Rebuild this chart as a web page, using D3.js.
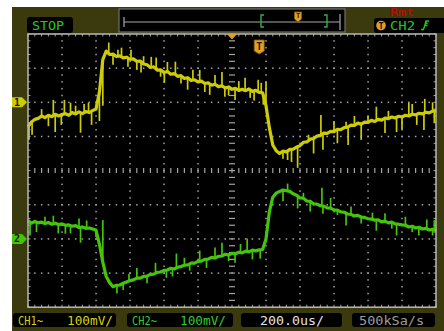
<!DOCTYPE html>
<html><head><meta charset="utf-8">
<script src="https://cdn.jsdelivr.net/npm/d3@7"></script>
<style>html,body{margin:0;padding:0;background:#fff;} svg{display:block}</style>
</head><body>
<svg id="c" width="444" height="331"></svg>
<script>
// ---- data (time in µs, voltage in mV) ----
const startTime = -1200;
const sampleStep = 20;
const ch1Values = [
 -72,-58,-50,-47,-40,-45,-38,-42,-35,-40,
 -36,-33,-38,-30,-34,-28,-33,-27,-30,-24,
 -20,30,125,150,140,141,134,136,130,132,
 126,127,120,121,112,110,102,104,94,95,
 87,90,82,84,76,78,70,72,64,66,
 60,62,55,57,50,53,46,48,42,45,
 38,41,35,38,34,39,32,35,29,28,
 -10,-75,-125,-142,-150,-143,-145,-138,-137,-131,
 -127,-117,-116,-108,-106,-99,-97,-90,-91,-85,
 -86,-79,-80,-74,-73,-67,-68,-61,-64,-58,
 -59,-53,-56,-50,-52,-46,-48,-43,-46,-41,
 -43,-38,-40,-35,-37,-32,-34,-29,-31,-26,-25];
const ch2Values = [
 54,46,51,47,49,45,48,43,46,42,
 44,40,41,37,39,33,35,31,32,29,
 26,-15,-68,-110,-128,-140,-136,-135,-130,-126,
 -122,-120,-115,-115,-110,-109,-104,-103,-98,-97,
 -92,-91,-86,-88,-83,-81,-77,-76,-71,-71,
 -66,-65,-60,-59,-54,-56,-51,-50,-45,-47,
 -42,-44,-39,-41,-36,-38,-33,-35,-32,-31,
 0,80,122,134,139,143,141,139,132,128,
 120,119,111,110,103,102,97,96,91,90,
 85,84,79,78,73,72,67,69,64,63,
 59,58,55,56,50,52,47,49,44,43,
 41,40,35,37,32,34,29,31,26,28,24];
const ch1Spikes = [[-1194,-110],[-1176,-95],[-1051,7],[-1040,-87],[-1004,-66],[-986,7],[-950,-1],
 [-891,-89],[-844,-1],[-826,-66],[-725,175],[-671,154],[-612,104],[-594,154],[-535,87],[-475,133],
 [-446,131],[-398,57],[-333,119],[-261,37],[-190,95],[-131,22],[-59,89],[-42,16],[18,7],[77,72],
 [107,13],[154,66],[172,57],[184,-7],[327,-169],[386,-192],[523,-37],[535,-139],[671,-57],[683,-125],
 [849,-13],[968,-87],[1040,-1],[1087,-66],[1129,-81],[1134,10],
 [-1120,-20],[-1080,-70],[-920,-10],[-870,-5],[-780,-55],[-760,-10],
 [-700,110],[-650,160],[-560,95],[-520,135],[-420,75],[-380,118],[-300,55],[-230,95],[-160,30],
 [-100,80],[-20,20],[40,62],[130,5],[200,60],
 [300,-165],[350,-175],[450,-95],[480,-150],[600,-55],[620,-120],[720,-40],[760,-110],[800,-40],
 [900,-90],[920,-25],[1000,-80],[1060,-5],[1180,0],[1190,-60]];
const ch2Spikes = [[-1188,10],[-1051,68],[-1022,16],[-950,16],[-891,-11],[-855,54],[-677,-160],
 [-606,-102],[-386,-114],[-327,-43],[-249,-93],[-190,-34],[-59,-11],[18,-70],[89,1],[166,-58],
 [327,162],[386,89],[529,150],[535,74],[671,39],[826,77],[849,24],[968,10],[1099,10],[1146,57],
 [-1150,20],[-1100,65],[-980,15],[-900,60],[-800,5],[-760,55],
 [-640,-150],[-560,-85],[-500,-130],[-450,-70],[-350,-110],[-280,-55],[-150,-85],[-100,-25],
 [-20,-65],[50,-15],[120,-60],[200,-10],
 [300,110],[420,135],[460,80],[580,120],[620,70],[700,95],[760,45],[900,75],[940,30],[1020,65],
 [1060,20],[1180,10],[1190,55]];
const ch1Offset = 200;   // mV, ground marker position
const ch2Offset = -200;
const timeDomain = [-1200, 1200];
const voltDomain = [-400, 400];
const timePerDiv = 200, voltPerDiv = 100;
const triggerTime = 160;
const statusLabel = "STOP";
const remoteLabel = "Rmt";
const triggerSource = "CH2";
const ch1Label = ["CH1~", "100mV/"];
const ch2Label = ["CH2~", "100mV/"];
const timebaseLabel = "200.0us/";
const sampleRateLabel = "500kSa/s";

// ---- drawing ----
const svg = d3.select("#c");
const x = d3.scaleLinear().domain(timeDomain).range([28, 436]);
const y = d3.scaleLinear().domain(voltDomain).range([307.2, 34]);
const YEL = "#cccc08", GRN = "#44c40a", ORG = "#e0a028", OLIVE = "#3b3a0f";
const mono = "'DejaVu Sans Mono', monospace";

svg.append("rect").attr("x",12).attr("y",7).attr("width",432).attr("height",324).attr("fill",OLIVE);
svg.append("rect").attr("x",x(timeDomain[0])).attr("y",y(voltDomain[1]))
  .attr("width",x(timeDomain[1])-x(timeDomain[0])).attr("height",y(voltDomain[0])-y(voltDomain[1])).attr("fill","#000");

const g = svg.append("g");
const majorT = d3.range(timeDomain[0], timeDomain[1]+1, timePerDiv);
const majorV = d3.range(voltDomain[0], voltDomain[1]+1, voltPerDiv);
const minorT = d3.range(timeDomain[0], timeDomain[1]+1, timePerDiv/5);
const minorV = d3.range(voltDomain[0], voltDomain[1]+1, voltPerDiv/5);
const dotCol = "#a4a4a4";
majorT.slice(1,-1).filter(t=>t!==0).forEach(t=>{
  minorV.slice(1,-1).forEach(v=>{
    g.append("rect").attr("x",x(t)-0.7).attr("y",y(v)-0.7).attr("width",1.5).attr("height",1.5).attr("fill",dotCol);
  });
});
majorV.slice(1,-1).filter(v=>v!==0).forEach(v=>{
  minorT.slice(1,-1).forEach(t=>{
    g.append("rect").attr("x",x(t)-0.7).attr("y",y(v)-0.7).attr("width",1.5).attr("height",1.5).attr("fill",dotCol);
  });
});
minorV.slice(1,-1).forEach(v=>{
  g.append("line").attr("x1",x(0)-3).attr("x2",x(0)+3).attr("y1",y(v)).attr("y2",y(v)).attr("stroke",dotCol).attr("stroke-width",1.2);
});
minorT.slice(1,-1).forEach(t=>{
  g.append("line").attr("x1",x(t)).attr("x2",x(t)).attr("y1",y(0)-2.5).attr("y2",y(0)+2.5).attr("stroke",dotCol).attr("stroke-width",1.2);
});
minorT.forEach(t=>{
  g.append("line").attr("x1",x(t)).attr("x2",x(t)).attr("y1",y(voltDomain[1])).attr("y2",y(voltDomain[1])+2.5).attr("stroke",dotCol);
  g.append("line").attr("x1",x(t)).attr("x2",x(t)).attr("y1",y(voltDomain[0])).attr("y2",y(voltDomain[0])-2.5).attr("stroke",dotCol);
});
minorV.forEach(v=>{
  g.append("line").attr("x1",x(timeDomain[0])).attr("x2",x(timeDomain[0])+2.5).attr("y1",y(v)).attr("y2",y(v)).attr("stroke",dotCol);
  g.append("line").attr("x1",x(timeDomain[1])).attr("x2",x(timeDomain[1])-2.5).attr("y1",y(v)).attr("y2",y(v)).attr("stroke",dotCol);
});

function drawTrace(vals, spikes, offset, col){
  const pts = vals.map((v,i)=>[startTime + i*sampleStep, v]);
  const line = d3.line().x(d=>x(d[0])).y(d=>y(d[1]+offset));
  svg.append("path").attr("d",line(pts)).attr("fill","none").attr("stroke",col)
    .attr("stroke-width",3.2).attr("stroke-linejoin","round");
  spikes.forEach(([t,v])=>{
    const i = Math.round((t-startTime)/sampleStep);
    const base = vals[Math.max(0,Math.min(vals.length-1,i))];
    svg.append("line").attr("x1",x(t)).attr("x2",x(t)).attr("y1",y(base+offset)).attr("y2",y(v+offset))
      .attr("stroke",col).attr("stroke-width",1.7);
  });
}
drawTrace(ch1Values, ch1Spikes, ch1Offset, YEL);
drawTrace(ch2Values, ch2Spikes, ch2Offset, GRN);

svg.append("rect").attr("x",x(timeDomain[0])).attr("y",y(voltDomain[1]))
  .attr("width",x(timeDomain[1])-x(timeDomain[0])).attr("height",y(voltDomain[0])-y(voltDomain[1]))
  .attr("fill","none").attr("stroke","#b8b8b8").attr("stroke-width",1.5);

function chMarker(yy, col, label){
  svg.append("path").attr("d",`M12,${yy-5}H22L27,${yy}L22,${yy+5}H12Z`).attr("fill",col);
  svg.append("text").attr("x",17).attr("y",yy+3.5).attr("text-anchor","middle").attr("font-family",mono)
    .attr("font-size",10).attr("font-weight","bold").attr("fill","#1a1a00").text(label);
}
chMarker(y(ch1Offset), YEL, "1");
chMarker(y(ch2Offset), GRN, "2");

const cx = x(0);
svg.append("path").attr("d",`M${cx-5},34H${cx+5}L${cx},39.5Z`).attr("fill",ORG);
function tMarker(px, top, w, h, fs){
  svg.append("path").attr("d",`M${px-w/2},${top}H${px+w/2}V${top+h-3}L${px},${top+h}L${px-w/2},${top+h-3}Z`)
    .attr("fill",ORG).attr("stroke","#8a5a10").attr("stroke-width",0.8);
  svg.append("text").attr("x",px).attr("y",top+h-4.5).attr("text-anchor","middle").attr("font-family",mono)
    .attr("font-size",fs).attr("font-weight","bold").attr("fill","#2a1a00").text("T");
}
tMarker(x(triggerTime), 40, 10, 14, 10);

svg.append("rect").attr("x",27).attr("y",17).attr("width",46).attr("height",16).attr("rx",3).attr("fill","#000");
svg.append("text").attr("x",32).attr("y",29.5).attr("font-family",mono).attr("font-size",12.5).attr("fill","#22c822")
  .attr("textLength",32).attr("lengthAdjust","spacingAndGlyphs").text(statusLabel);

svg.append("rect").attr("x",119).attr("y",9).attr("width",226).attr("height",23).attr("fill","#000")
  .attr("stroke","#707070").attr("stroke-width",1.2);
svg.append("line").attr("x1",124).attr("x2",340).attr("y1",22).attr("y2",22).attr("stroke","#a8a8a8").attr("stroke-width",1.2);
svg.append("line").attr("x1",124).attr("x2",124).attr("y1",17).attr("y2",27).attr("stroke","#a8a8a8").attr("stroke-width",1.2);
svg.append("line").attr("x1",340).attr("x2",340).attr("y1",14).attr("y2",30).attr("stroke","#a8a8a8").attr("stroke-width",1.2);
svg.append("path").attr("d","M264,15H261V27H264").attr("fill","none").attr("stroke","#30b040").attr("stroke-width",1.4);
svg.append("path").attr("d","M324,15H327V27H324").attr("fill","none").attr("stroke","#30b040").attr("stroke-width",1.4);
tMarker(298, 12, 7, 10, 7);

svg.append("text").attr("x",390).attr("y",16).attr("font-family",mono).attr("font-size",11).attr("fill","#d00000")
  .attr("textLength",24).attr("lengthAdjust","spacingAndGlyphs").text(remoteLabel);
svg.append("rect").attr("x",374).attr("y",18).attr("width",74).attr("height",15).attr("rx",3).attr("fill","#000");
svg.append("circle").attr("cx",381).attr("cy",25.5).attr("r",4.8).attr("fill",ORG);
svg.append("text").attr("x",381).attr("y",28.8).attr("text-anchor","middle").attr("font-family",mono)
  .attr("font-size",8.5).attr("font-weight","bold").attr("fill","#1a1000").text("T");
svg.append("text").attr("x",390).attr("y",29.5).attr("font-family",mono).attr("font-size",12.5).attr("fill","#22c822")
  .attr("textLength",25).attr("lengthAdjust","spacingAndGlyphs").text(triggerSource);
svg.append("path").attr("d","M421,29.5H423.5L426,21H429M424.5,25.5H427.5M425,24l1.2,-1.5l1.2,1.5")
  .attr("fill","none").attr("stroke","#22c822").attr("stroke-width",1.3);

function box(x0, x1){ svg.append("rect").attr("x",x0).attr("y",313).attr("width",x1-x0).attr("height",14).attr("rx",3).attr("fill","#000"); }
function label(txt, x0, x1, col){
  svg.append("text").attr("x",x0).attr("y",324.5).attr("font-family",mono).attr("font-size",12).attr("fill",col)
    .attr("textLength",x1-x0).attr("lengthAdjust","spacingAndGlyphs").text(txt);
}
box(13,116); box(127,233); box(241,342); box(352,435);
label(ch1Label[0], 18, 43, "#d4d40a"); label(ch1Label[1], 67, 113, "#d4d40a");
label(ch2Label[0], 132, 157, "#30cc30"); label(ch2Label[1], 180, 226, "#30cc30");
label(timebaseLabel, 260, 324, "#e4e4e4");
label(sampleRateLabel, 359, 424, "#9c9c9c");
</script>
</body></html>
